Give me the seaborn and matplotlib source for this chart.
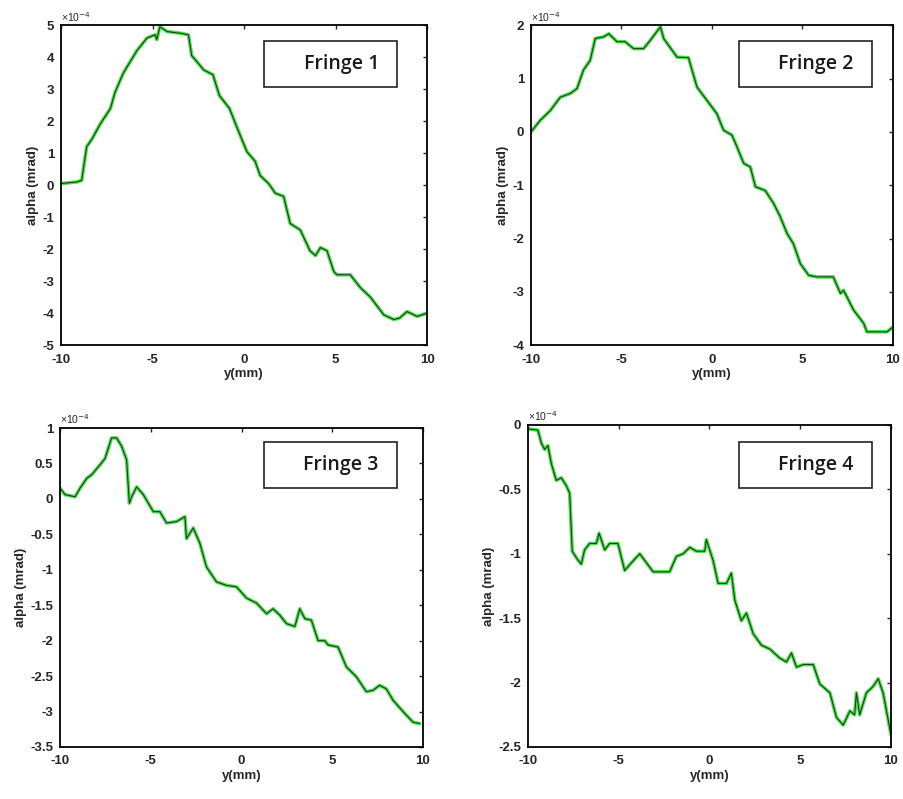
import matplotlib
matplotlib.use("Agg")
import matplotlib.pyplot as plt
import numpy as np
import pandas as pd
import seaborn as sns
from matplotlib.patches import Rectangle
from matplotlib.ticker import FuncFormatter

# alpha values in units of 1e-4 mrad
y1 = [-10, -9.14, -8.87, -8.6, -8.3, -7.87, -7.3, -7.05, -6.6, -5.86, -5.3, -4.86, -4.77, -4.6,
      -4.2, -3.5, -3.04, -2.86, -2.2, -1.7, -1.35, -0.8, -0.35, 0.15, 0.6, 0.88, 1.34, 1.7, 2.16,
      2.52, 3.07, 3.6, 3.9, 4.17, 4.53, 4.9, 5.07, 5.8, 6.35, 6.9, 7.63, 8.18, 8.5, 8.9, 9.45, 10]
a1 = [0.05, 0.1, 0.15, 1.2, 1.45, 1.9, 2.4, 2.9, 3.5, 4.2, 4.6, 4.7, 4.55, 4.95,
      4.8, 4.75, 4.7, 4.05, 3.6, 3.45, 2.8, 2.4, 1.75, 1.05, 0.75, 0.3, 0.05, -0.25, -0.35,
      -1.2, -1.4, -2.05, -2.2, -1.95, -2.05, -2.7, -2.8, -2.8, -3.2, -3.5, -4.05, -4.2, -4.15, -3.95, -4.1, -4.0]

y2 = [-10, -9.48, -8.93, -8.38, -7.83, -7.46, -7.1, -6.73, -6.45, -6.0, -5.7, -5.25, -4.8, -4.33,
      -3.78, -3.4, -2.85, -2.67, -1.93, -1.3, -0.83, -0.28, 0.27, 0.64, 1.1, 1.38, 1.75, 2.12, 2.4,
      2.94, 3.4, 3.77, 4.14, 4.5, 4.88, 5.34, 5.8, 6.54, 6.7, 7.1, 7.27, 7.82, 8.38, 8.56, 9.67, 10]
a2 = [0, 0.22, 0.4, 0.65, 0.72, 0.81, 1.16, 1.34, 1.75, 1.78, 1.84, 1.69, 1.69, 1.56,
      1.56, 1.72, 1.97, 1.75, 1.4, 1.39, 0.84, 0.59, 0.34, 0.03, -0.06, -0.28, -0.59, -0.66, -1.03,
      -1.1, -1.34, -1.59, -1.9, -2.1, -2.47, -2.69, -2.72, -2.72, -2.72, -3.03, -2.97, -3.34, -3.59, -3.75, -3.75, -3.66]

y3 = [-10, -9.72, -9.17, -8.9, -8.53, -8.26, -7.8, -7.52, -7.16, -6.88, -6.6, -6.33, -6.18, -6.05,
      -5.78, -5.41, -4.86, -4.5, -4.13, -3.58, -3.12, -3.03, -2.66, -2.29, -1.93, -1.38, -0.83, -0.28,
      0.28, 0.83, 1.38, 1.74, 2.11, 2.48, 2.94, 3.21, 3.49, 3.85, 4.22, 4.59, 4.77, 5.32, 5.78, 6.33,
      6.88, 7.25, 7.61, 7.98, 8.35, 8.9, 9.45, 9.82]
a3 = [0.15, 0.06, 0.03, 0.15, 0.29, 0.34, 0.48, 0.57, 0.86, 0.86, 0.74, 0.55, -0.06, 0.03,
      0.17, 0.06, -0.18, -0.18, -0.34, -0.32, -0.25, -0.56, -0.41, -0.63, -0.96, -1.17, -1.22, -1.24,
      -1.4, -1.47, -1.62, -1.55, -1.64, -1.76, -1.8, -1.55, -1.69, -1.71, -2.0, -2.0, -2.06, -2.09, -2.37, -2.51,
      -2.72, -2.7, -2.63, -2.68, -2.84, -3.0, -3.15, -3.17]

y4 = [-10, -9.45, -9.26, -9.08, -8.9, -8.71, -8.44, -8.16, -7.89, -7.7, -7.56, -7.24, -7.06, -6.88,
      -6.6, -6.23, -6.08, -5.77, -5.5, -5.04, -4.67, -4.3, -3.84, -3.47, -3.1, -2.19, -1.82, -1.45,
      -1.08, -0.72, -0.26, -0.17, 0.2, 0.48, 0.94, 1.21, 1.4, 1.76, 2.04, 2.41, 2.87, 3.33, 3.88, 4.25,
      4.52, 4.8, 5.17, 5.72, 6.08, 6.64, 7.0, 7.37, 7.74, 8.0, 8.1, 8.28, 8.65, 9.02, 9.3, 9.57, 10]
a4 = [-0.03, -0.04, -0.14, -0.19, -0.16, -0.3, -0.43, -0.41, -0.47, -0.53, -0.98, -1.05, -1.08, -0.97,
      -0.92, -0.92, -0.84, -0.97, -0.92, -0.92, -1.13, -1.07, -1.0, -1.07, -1.14, -1.14, -1.02, -1.0,
      -0.95, -0.98, -0.98, -0.89, -1.05, -1.23, -1.23, -1.15, -1.36, -1.52, -1.46, -1.62, -1.71, -1.74, -1.81, -1.84,
      -1.77, -1.88, -1.86, -1.86, -2.01, -2.08, -2.27, -2.33, -2.22, -2.25, -2.08, -2.25, -2.08, -2.03, -1.97, -2.08, -2.4]

titles = ["Fringe 1", "Fringe 2", "Fringe 3", "Fringe 4"]
ylims = [(-5, 5), (-4, 2), (-3.5, 1), (-2.5, 0)]
ysteps = [1, 1, 0.5, 0.5]
xticks = [-10, -5, 0, 5, 10]

sns.set_style("white")
plt.rcParams["font.family"] = ["Liberation Sans", "DejaVu Sans"]

fig = plt.figure(figsize=(9.04, 7.99), dpi=100)
rects = [[0.0675, 0.568, 0.405, 0.4005],
         [0.5874, 0.568, 0.4004, 0.4005],
         [0.0664, 0.0651, 0.4015, 0.3992],
         [0.584, 0.0651, 0.4015, 0.403]]
boxes = [(0.555, 0.806, 0.363, 0.144),
         (0.575, 0.806, 0.367, 0.144),
         (0.562, 0.812, 0.366, 0.144),
         (0.581, 0.804, 0.367, 0.143)]

data = [(y1, a1), (y2, a2), (y3, a3), (y4, a4)]
fmt = FuncFormatter(lambda v, p: "%g" % v)

for i, ((yy, aa), rect) in enumerate(zip(data, rects)):
    ax = fig.add_axes(rect)
    df = pd.DataFrame({"y": yy, "alpha": aa})
    sns.lineplot(data=df, x="y", y="alpha", ax=ax, color="#4ee04e", lw=2.6, sort=False)
    sns.lineplot(data=df, x="y", y="alpha", ax=ax, color="#1c3f1c", lw=0.8, sort=False)
    lo, hi = ylims[i]
    ax.set_xlim(-10, 10)
    ax.set_ylim(lo, hi)
    ax.set_xticks(xticks)
    ax.set_yticks(np.arange(lo, hi + 1e-9, ysteps[i]))
    ax.xaxis.set_major_formatter(fmt)
    ax.yaxis.set_major_formatter(fmt)
    ax.tick_params(direction="in", length=3, width=1, top=True, right=True,
                   labelsize=9.5)
    ax.tick_params(axis="x", pad=6)
    ax.tick_params(axis="y", pad=5)
    for lab in ax.get_xticklabels() + ax.get_yticklabels():
        lab.set_fontweight("bold")
    for s in ax.spines.values():
        s.set_linewidth(1.3)
        s.set_color("black")
    ax.set_xlabel("y(mm)", fontsize=9.5, fontweight="bold", labelpad=2)
    ax.set_ylabel("alpha (mrad)", fontsize=9.5, fontweight="bold", labelpad=2)
    ax.text(0.0, 1.005, "\u00d710$^{-4}$", transform=ax.transAxes, fontsize=7.5,
            ha="left", va="bottom")
    bx, by, bw, bh = boxes[i]
    ax.add_patch(Rectangle((bx, by), bw, bh, transform=ax.transAxes, fill=True,
                           facecolor="white", edgecolor="#222222", lw=1.2, zorder=5))
    ax.text(bx + bw * 0.58, by + bh * 0.5, titles[i], transform=ax.transAxes,
            fontsize=14, fontweight="semibold", family=["Open Sans", "DejaVu Sans"],
            ha="center", va="center", color="#1a1a1a", zorder=6)

fig.savefig("out.png", dpi=100)
